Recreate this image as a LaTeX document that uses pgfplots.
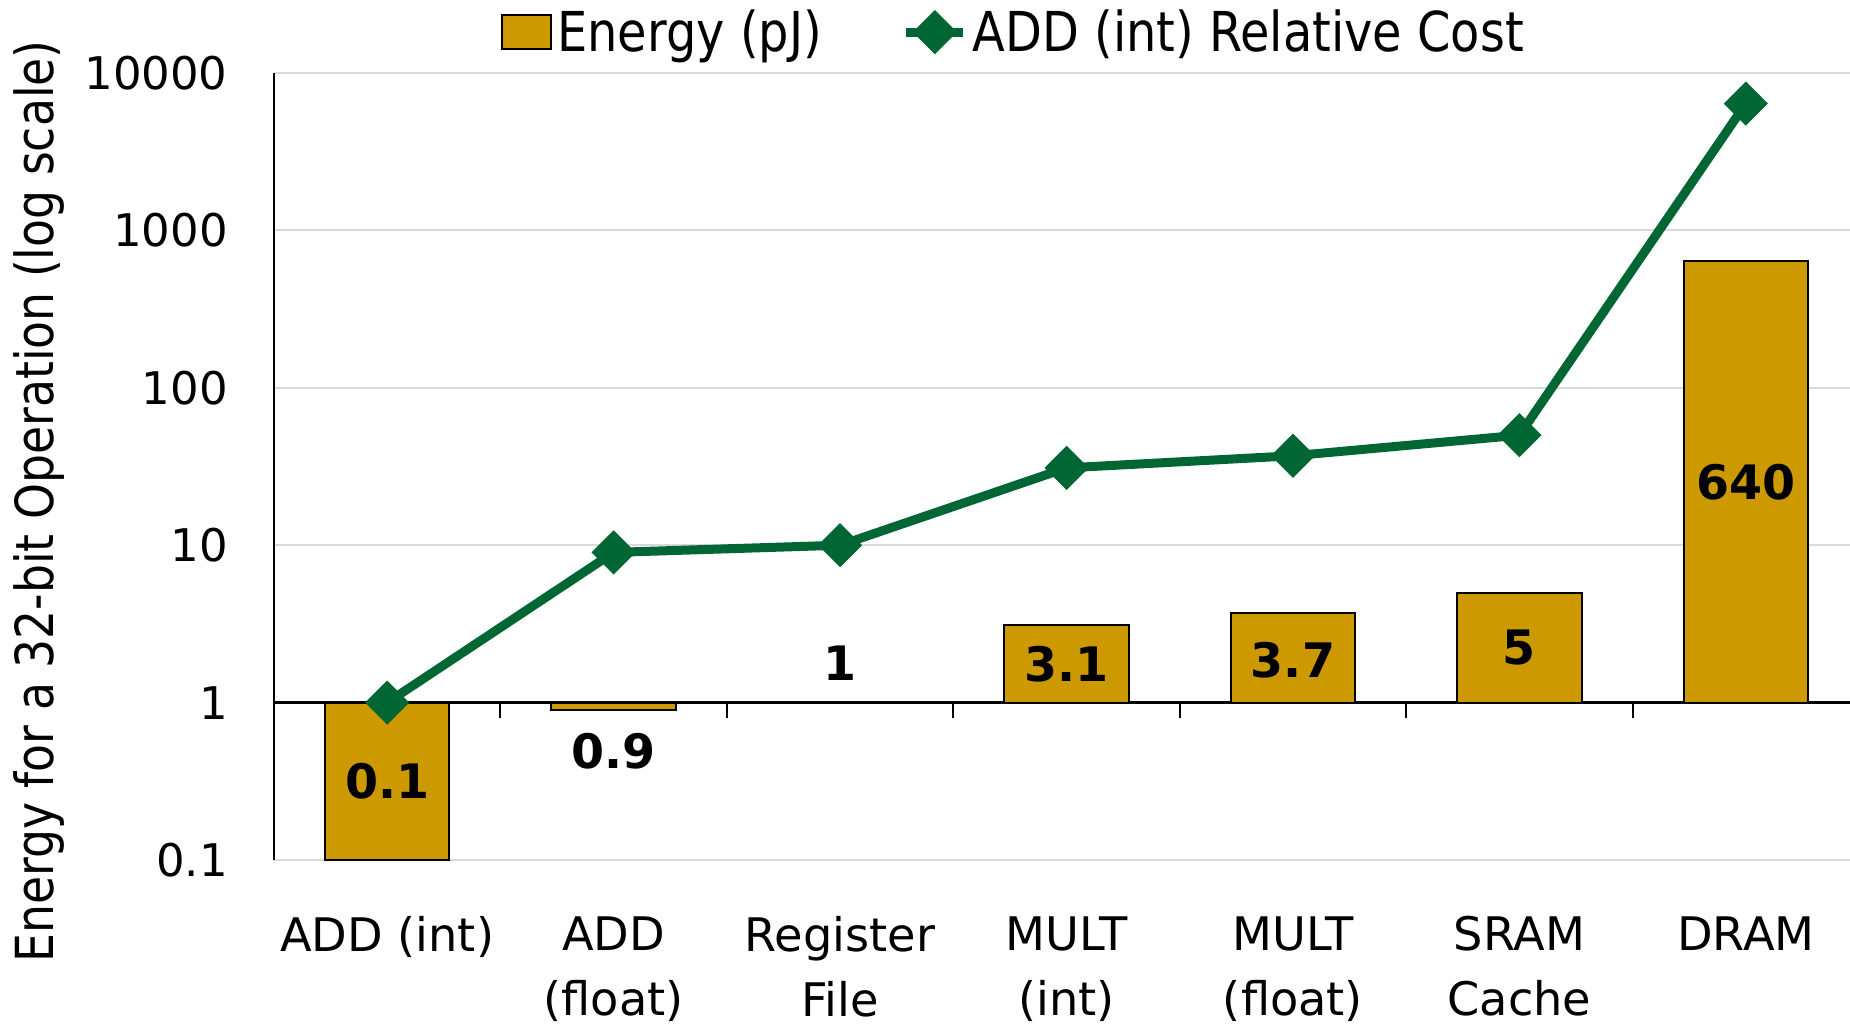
\documentclass[border=0pt]{standalone}
\usepackage{pgfplots}
\pgfplotsset{compat=1.18}
\usepackage{fontspec}
\setmainfont{DejaVu Sans}
\newfontfamily\narrowfont{DejaVu Sans}[FakeStretch=0.87]
\definecolor{gold}{HTML}{CC9900}
\definecolor{dgreen}{HTML}{006633}
\definecolor{gridgray}{HTML}{D9D9D9}
\pgfplotsset{
  lineleg/.style={legend image code/.code={\draw[mark repeat=2, mark phase=2, ##1] plot coordinates {(0cm,0cm) (0.4cm,0cm) (0.8cm,0cm)};}},
  barleg/.style={legend image code/.code={\draw[fill=gold, draw=black, line width=0.8pt] (0cm,-0.24cm) rectangle (0.7cm,0.24cm);}},
}
\begin{document}
\begin{tikzpicture}
\useasboundingbox (-109.6pt,-66.8pt) rectangle (630.4pt,344pt);
\begin{axis}[
  at={(0,0)}, anchor=south west,
  scale only axis, width=630.4pt, height=314.8pt,
  xmin=-0.5, xmax=6.46,
  ymode=log, ymin=0.1, ymax=10000,
  ytick={0.1,1,10,100,1000,10000},
  yticklabels={0.1,1,10,100,1000,10000},
  yminorticks=false,
  ymajorgrids, major grid style={gridgray, line width=0.8pt},
  extra y ticks={1}, extra y tick labels={},
  extra y tick style={grid=major, major grid style={black, line width=1.2pt}},
  xtick={0,1,2,3,4,5,6},
  xticklabels={ADD (int), ADD\\(float), Register\\File, MULT\\(int), MULT\\(float), SRAM\\Cache, DRAM},
  xticklabel style={align=center, font=\fontsize{18.5}{26}\selectfont, yshift=-19pt},
  yticklabel style={font=\fontsize{18}{22}\selectfont, xshift=-15pt},
  tick style={draw=none},
  axis y line*=left, axis x line*=bottom,
  x axis line style={draw=none},
  y axis line style={black, line width=1pt, -},
  ylabel={\narrowfont\fontsize{21}{25}\selectfont Energy for a 32-bit Operation (log scale)},
  ylabel style={at={(axis description cs:-0.149,0.4555)}, anchor=center},
  clip=false,
  legend columns=2,
  legend style={at={(0.47,1.052)}, anchor=center, draw=none, fill=none,
    font=\narrowfont\fontsize{22}{26}\selectfont,
    nodes={inner sep=2pt},
    /tikz/every even column/.append style={column sep=30pt}},
]
\addplot[ybar, bar width=0.55, fill=gold, draw=black, line width=0.8pt, barleg]
  coordinates {(0,0.1) (1,0.9) (2,1) (3,3.1) (4,3.7) (5,5) (6,640)};
\addlegendentry{Energy (pJ)}
\addplot[dgreen, line width=3.6pt, mark=square*, mark size=6pt,
  mark options={rotate=45, solid, fill=dgreen, line width=0.5pt}, lineleg]
  coordinates {(0,1) (1,9) (2,10) (3,31) (4,37) (5,50) (6,6400)};
\addlegendentry{ADD (int) Relative Cost}
\addplot[draw=none, mark=none, forget plot, nodes near coords, point meta=explicit symbolic,
  every node near coord/.append style={anchor=center, font=\bfseries\fontsize{19}{22}\selectfont, text=black}]
  coordinates {(0,0.316)[0.1] (1,0.49)[0.9] (2,1.78)[1] (3,1.76)[3.1] (4,1.85)[3.7] (5,2.24)[5] (6,25.3)[640]};
\pgfplotsinvokeforeach{0.5,1.5,2.5,3.5,4.5,5.5}{\draw[line width=0.8pt] (axis cs:#1,1) -- ([yshift=-6pt]axis cs:#1,1);}
\end{axis}
\end{tikzpicture}
\end{document}
